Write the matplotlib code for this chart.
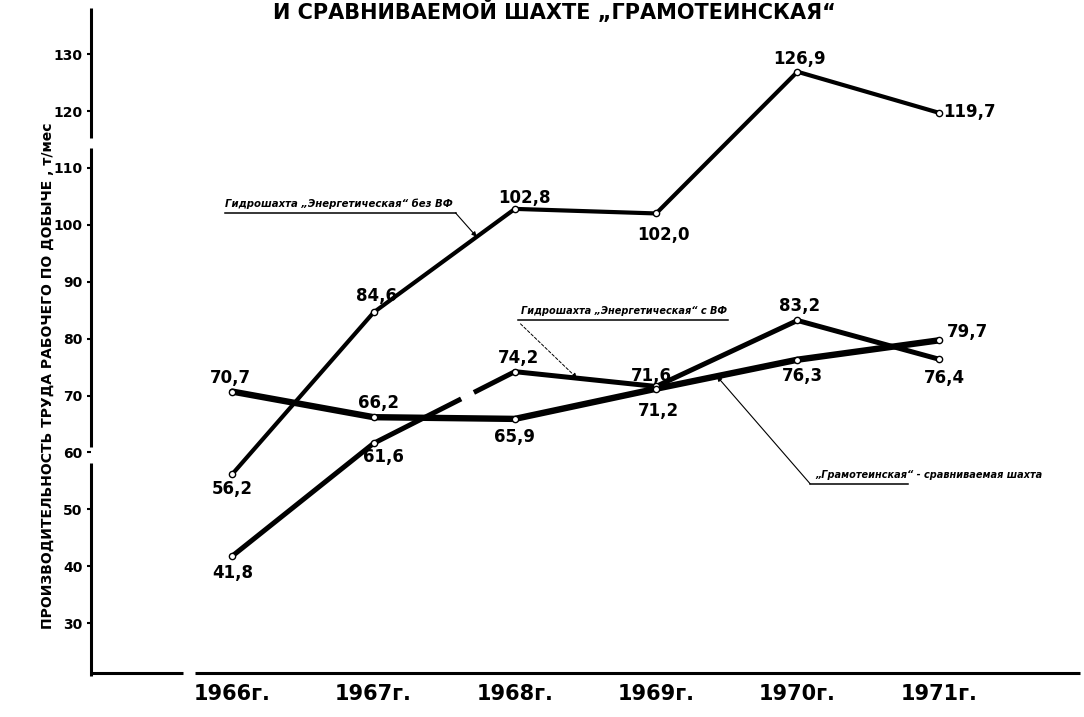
import numpy as np
import matplotlib.pyplot as plt

years = [1966, 1967, 1968, 1969, 1970, 1971]
year_labels = ['1966г.', '1967г.', '1968г.', '1969г.', '1970г.', '1971г.']

# Гидрошахта "Энергетическая" без ВФ
energ_bez_vf = [56.2, 84.6, 102.8, 102.0, 126.9, 119.7]
# Гидрошахта "Энергетическая" с ВФ
energ_s_vf = [41.8, 61.6, 74.2, 71.6, 83.2, 76.4]
# "Грамотеинская" - сравниваемая шахта
gramot = [70.7, 66.2, 65.9, 71.2, 76.3, 79.7]

y_ticks = [30, 40, 50, 60, 70, 80, 90, 100, 110, 120, 130]

# сдвиги подписей значений, пиксели (dx, dy)
off_bez_vf = [(0, -15), (3, 16), (10, 11), (7, -22), (2, 13), (31, 1)]
off_s_vf = [(0, -17), (10, -14), (4, 14), (-5, 10), (2, 14), (6, -19)]
off_gramot = [(-2, 14), (5, 14), (0, -18), (2, -22), (5, -16), (29, 8)]

NARROW = ['Liberation Sans Narrow', 'DejaVu Sans']
PX = 0.72  # пиксель -> пункт при dpi=100


def fmt(v):
    return f'{v:.1f}'.replace('.', ',')


def na_otrezke(ser, i, t):
    # точка на отрезке ломаной между годами i и i+1
    x = years[i] + t * (years[i + 1] - years[i])
    y = ser[i] + t * (ser[i + 1] - ser[i])
    return x, y


fig = plt.figure(figsize=(10.84, 7.17), dpi=100)
ax = fig.add_axes([91 / 1084, 44 / 717, 989 / 1084, 665 / 717])
ax.set_xlim(1965, 1972)
ax.set_ylim(21.25, 138.1)

for s in ax.spines.values():
    s.set_visible(False)

# оси с разрывами
for y0, y1 in [(1.0, 0.805), (0.789, 0.34), (0.316, -0.004)]:
    ax.plot([0, 0], [y0, y1], color='black', lw=2.2, transform=ax.transAxes,
            clip_on=False, solid_capstyle='butt')
for x0, x1 in [(0, 0.093), (0.105, 1.0)]:
    ax.plot([x0, x1], [0, 0], color='black', lw=2.2, transform=ax.transAxes,
            clip_on=False, solid_capstyle='butt')

# линии
ax.plot(years, gramot, color='black', lw=4.6, zorder=2, solid_capstyle='round')
ax.plot(years, energ_bez_vf, color='black', lw=3.0, zorder=3, solid_capstyle='round')
ax.plot(years, energ_s_vf, color='black', lw=3.6, zorder=3, solid_capstyle='round')

# разрыв линии между 1967 и 1968
g0 = na_otrezke(energ_s_vf, 1, 0.62)
g1 = na_otrezke(energ_s_vf, 1, 0.71)
ax.plot([g0[0], g1[0]], [g0[1], g1[1]], color='white', lw=4.6, zorder=4,
        solid_capstyle='butt')

for ser in (energ_bez_vf, energ_s_vf, gramot):
    ax.plot(years, ser, linestyle='none', marker='o', ms=4.5, mfc='white',
            mec='black', mew=1.0, zorder=5)

# подписи значений
for ser, offs in [(energ_bez_vf, off_bez_vf), (energ_s_vf, off_s_vf),
                  (gramot, off_gramot)]:
    for x, v, (dx, dy) in zip(years, ser, offs):
        ax.annotate(fmt(v), xy=(x, v), xytext=(dx * PX, dy * PX),
                    textcoords='offset points', ha='center', va='center',
                    fontsize=12, fontweight='bold', family=NARROW, zorder=6)

# выноски
arrow = dict(arrowstyle='-|>', color='black', lw=0.8, mutation_scale=7,
             shrinkA=0, shrinkB=0)

ax.text(1965.95, 103.1, 'Гидрошахта „Энергетическая“ без ВФ', fontsize=7.3,
        fontweight='bold', fontstyle='italic', ha='left', va='baseline')
ax.plot([1965.95, 1967.58], [102.1, 102.1], color='black', lw=1.1)
ax.annotate('', xy=na_otrezke(energ_bez_vf, 1, 0.73), xytext=(1967.58, 102.1),
            arrowprops=arrow)

ax.text(1968.04, 84.4, 'Гидрошахта „Энергетическая“ с ВФ', fontsize=7.0,
        fontweight='bold', fontstyle='italic', ha='left', va='baseline')
ax.plot([1968.02, 1969.51], [83.2, 83.2], color='black', lw=1.1)
ax.annotate('', xy=na_otrezke(energ_s_vf, 2, 0.44), xytext=(1968.04, 82.6),
            arrowprops=dict(arrow, linestyle=(0, (3, 2)), lw=0.7))

ax.text(1970.13, 55.5, '„Грамотеинская“ - сравниваемая шахта', fontsize=7.0,
        fontweight='bold', fontstyle='italic', ha='left', va='baseline')
ax.plot([1970.09, 1970.78], [54.5, 54.5], color='black', lw=1.1)
ax.annotate('', xy=na_otrezke(gramot, 3, 0.43), xytext=(1970.09, 54.5),
            arrowprops=arrow)

# деления
ax.set_yticks(y_ticks)
ax.set_yticklabels([str(t) for t in y_ticks], fontsize=10, fontweight='bold',
                   family=NARROW)
ax.tick_params(axis='y', direction='out', length=3, width=1.5, pad=3)
ax.set_xticks(years)
ax.set_xticklabels(year_labels, fontsize=15, fontweight='bold', family=NARROW)
ax.tick_params(axis='x', length=0, pad=8)

fig.text(48 / 1084, 1 - 376 / 717,
         'ПРОИЗВОДИТЕЛЬНОСТЬ ТРУДА РАБОЧЕГО ПО ДОБЫЧЕ , т/мес',
         rotation=90, ha='center', va='center', fontsize=10, fontweight='bold')

fig.text(554 / 1084, 1 - 19 / 717, 'И СРАВНИВАЕМОЙ ШАХТЕ „ГРАМОТЕИНСКАЯ“',
         ha='center', va='baseline', fontsize=15, fontweight='bold')

fig.savefig('out.png', dpi=100, facecolor='white')
